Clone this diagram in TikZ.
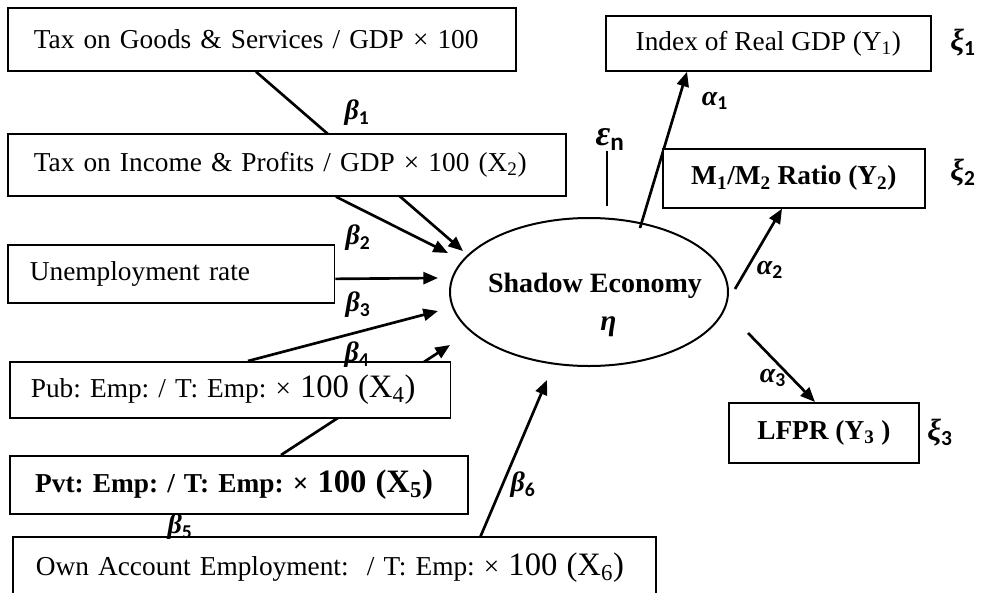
\documentclass[tikz,border=0pt]{standalone}
\usepackage{fontspec}
\setmainfont{Liberation Serif}
\newfontfamily\subfont{Carlito}
\usetikzlibrary{shapes.geometric,arrows.meta,calc,backgrounds}
\newcommand{\coef}[2]{#1\textsubscript{\subfont\upshape #2}}
\newcommand{\bignum}[1]{{\fontsize{24.5}{30}\selectfont #1}}
\frenchspacing

\begin{document}
\begin{tikzpicture}[x=0.75pt,y=-0.75pt,
	box/.style={draw, line width=1.3pt, fill=white, anchor=north west, align=left, inner ysep=0pt, font=\fontsize{20.5}{25}\selectfont},
	cbox/.style={box, align=center, inner xsep=0pt},
	arr/.style={-{Triangle[length=11pt,width=9pt]}, line width=2pt},
	coefl/.style={font=\fontsize{21}{24}\selectfont\bfseries\itshape, inner sep=0pt},
	errl/.style={font=\fontsize{23}{26}\selectfont\bfseries\itshape, inner sep=0pt}]
	\useasboundingbox (0,0) rectangle (986,593);
	\clip (0,0) rectangle (986,593);

	% causes
	\node[box, inner xsep=19.5pt, text width=342pt, minimum height=47.25pt] (gs) at (7,7) {Tax on Goods \& Services / GDP × 100};
	\node[box, inner xsep=19.5pt, text width=379.5pt, minimum height=46.5pt] (ip) at (7,133) {Tax on Income \& Profits / GDP × 100 (X\textsubscript{2})};
	\node[box, inner xsep=16.5pt, text width=212pt, minimum height=43.5pt] (ur) at (7,244) {Unemployment rate};
	\node[box, inner xsep=15.75pt, text width=299pt, minimum height=42pt] (pub) at (9,361) {Pub: Emp: / T: Emp: × \bignum{100 (X\textsubscript{4})}};
	\node[box, inner xsep=19pt, text width=305.5pt, minimum height=43.5pt, font=\fontsize{20.5}{25}\selectfont\bfseries] (pvt) at (9,455) {Pvt: Emp: / T: Emp: × \bignum{100 (X\textsubscript{5})}};
	\node[box, inner xsep=17.25pt, text width=447.75pt, minimum height=46.5pt] (own) at (12,536) {Own Account Employment: \ / T: Emp: × \bignum{100 (X\textsubscript{6})}};

	% indicators
	\node[cbox, minimum width=243.75pt, minimum height=41.25pt] (y1) at (605,15) {Index of Real GDP (Y\textsubscript{1})};
	\node[cbox, minimum width=196.5pt, minimum height=44.25pt, font=\fontsize{20.5}{25}\selectfont\bfseries] (y2) at (662,148) {M\textsubscript{1}/M\textsubscript{2} Ratio (Y\textsubscript{2})};
	\node[cbox, minimum width=142.5pt, minimum height=45pt, font=\fontsize{20.5}{25}\selectfont\bfseries] (y3) at (728,402) {LFPR (Y\textsubscript{3} )};

	% latent variable
	\node[ellipse, draw, line width=1.5pt, minimum width=208.5pt, minimum height=111pt] (se) at (589,292) {};
	\node[font=\fontsize{21}{25}\selectfont\bfseries, align=center, inner sep=0pt] (setxt) at (595,305) {Shadow Economy\\[4pt]\hspace*{20pt}{\fontsize{22}{25}\selectfont\itshape η}};

	\begin{scope}[on background layer]
		\coordinate (t1) at (463,251);
		\coordinate (t2) at (448,253);
		\coordinate (t3) at (438,278);
		\coordinate (t4) at (438,311);
		\coordinate (t5) at (450,345);
		\coordinate (t6) at (547,380);
		\draw[arr] ($(gs.south west)+(249,0)$) -- (t1);
		\draw[arr] ($(ip.south west)+(329,0)$) -- (t2);
		\draw[arr] ($(ur.east)+(0,5)$) -- (t3);
		\draw[arr] ($(pub.north west)+(239,0)$) -- (t4);
		\draw[arr] ($(pvt.north west)+(272,0)$) -- (t5);
		\draw[arr] ($(own.north west)+(467,4)$) -- (t6);
		\draw[arr] ($(se.center)+(51,-64)$) -- ($(y1.south west)+(82,0)$);
		\draw[arr] ($(se.center)+(146,-3)$) -- ($(y2.south west)+(120,0)$);
		\draw[arr] ($(se.center)+(159,41)$) -- ($(y3.north west)+(87,0)$);
	\end{scope}

	% path labels
	\node[coefl] (b1) at (357,113) {\coef{β}{1}};
	\node[coefl] (b2) at (358,238) {\coef{β}{2}};
	\node[coefl] (b3) at (358,305) {\coef{β}{3}};
	\node[coefl] (b4) at (357,355) {\coef{β}{4}};
	\node[coefl] (b5) at (180,527) {\coef{β}{5}};
	\node[coefl] (b6) at (523,485) {\coef{β}{6}};
	\node[coefl] (a1) at (715,101) {\coef{α}{1}};
	\node[coefl] (a2) at (770,270) {\coef{α}{2}};
	\node[coefl] (a3) at (773,378) {\coef{α}{3}};

	% error terms
	\node[errl] (x1) at (963,43) {\coef{ξ}{1}};
	\node[errl] (x2) at (963,173) {\coef{ξ}{2}};
	\node[errl] (x3) at (940,433) {\coef{ξ}{3}};
	\node[errl, font=\fontsize{27}{30}\selectfont\bfseries\itshape] (en) at (610,140) {\coef{ε}{n}};
	\coordinate (enend) at (607,206);
	\draw[line width=1pt] (en.south -| enend) -- (enend);
\end{tikzpicture}
\end{document}
